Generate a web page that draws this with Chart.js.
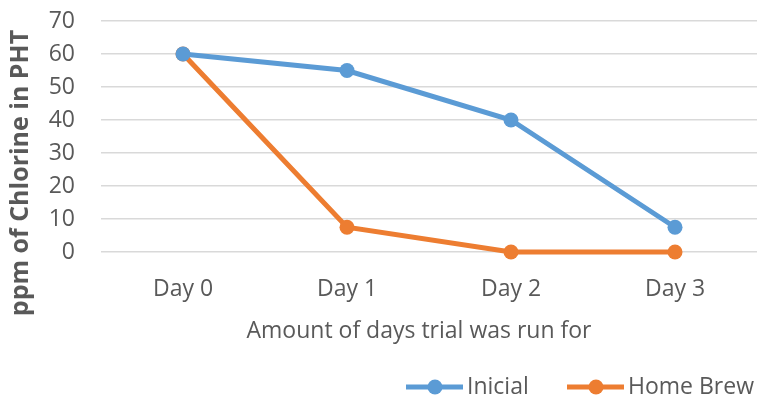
<!DOCTYPE html>
<html lang="en">
<head>
    <meta charset="UTF-8">
    <title>Chlorine</title>
    <style>
        html, body { margin: 0; padding: 0; background: #fff; }
        #wrap { width: 759px; height: 399px; }
    </style>
</head>
<body>
    <div id="wrap">
        <canvas id="chlorine-chart" width="759" height="399"></canvas>
    </div>
    <script src="https://cdn.jsdelivr.net/npm/chart.js"></script>
    <script>
        // data
        const days = ['Day 0', 'Day 1', 'Day 2', 'Day 3'];
        const inicial = [60, 55, 40, 7.5];
        const homeBrew = [60, 7.5, 0, 0];
        const yTicks = [0, 10, 20, 30, 40, 50, 60, 70];

        const blue = '#5B9BD5';
        const orange = '#ED7D31';
        const grey = '#595959';
        const font = '"Open Sans", sans-serif';

        // axis titles + legend drawn by hand (excel style)
        const extras = {
            id: 'extras',
            afterDraw(chart) {
                const ctx = chart.ctx;
                ctx.save();
                ctx.fillStyle = grey;
                ctx.textBaseline = 'middle';

                ctx.save();
                ctx.translate(21, 173);
                ctx.rotate(-Math.PI / 2);
                ctx.textAlign = 'center';
                ctx.font = 'bold 25px ' + font;
                ctx.fillText('ppm of Chlorine in PHT', 0, 0);
                ctx.restore();

                ctx.textAlign = 'center';
                ctx.font = '23px ' + font;
                ctx.fillText('Amount of days trial was run for', 419, 331);

                const items = [
                    { label: 'Inicial', color: blue, x: 406 },
                    { label: 'Home Brew', color: orange, x: 567 }
                ];
                items.forEach(it => {
                    ctx.strokeStyle = it.color;
                    ctx.lineWidth = 5;
                    ctx.beginPath();
                    ctx.moveTo(it.x, 387);
                    ctx.lineTo(it.x + 57, 387);
                    ctx.stroke();
                    ctx.fillStyle = it.color;
                    ctx.beginPath();
                    ctx.arc(it.x + 29, 387, 7.5, 0, Math.PI * 2);
                    ctx.fill();
                    ctx.fillStyle = grey;
                    ctx.textAlign = 'left';
                    ctx.font = '23px ' + font;
                    ctx.fillText(it.label, it.x + 61, 387);
                });
                ctx.restore();
            }
        };

        const ctx = document.getElementById('chlorine-chart').getContext('2d');
        new Chart(ctx, {
            type: 'line',
            data: {
                labels: days,
                datasets: [
                    {
                        label: 'Inicial',
                        data: inicial,
                        borderColor: blue,
                        backgroundColor: blue,
                        borderWidth: 5,
                        pointRadius: 7.5,
                        pointHoverRadius: 7.5,
                        pointBorderWidth: 0,
                        tension: 0
                    },
                    {
                        label: 'Home Brew',
                        data: homeBrew,
                        borderColor: orange,
                        backgroundColor: orange,
                        borderWidth: 5,
                        pointRadius: 7.5,
                        pointHoverRadius: 7.5,
                        pointBorderWidth: 0,
                        tension: 0
                    }
                ]
            },
            options: {
                responsive: false,
                animation: false,
                clip: false,
                layout: {
                    autoPadding: false,
                    padding: { top: 21, right: 2, bottom: 0, left: 0 }
                },
                plugins: {
                    legend: { display: false },
                    tooltip: { enabled: false }
                },
                scales: {
                    x: {
                        offset: true,
                        grid: { display: false, drawTicks: false },
                        border: { display: false },
                        ticks: {
                            color: grey,
                            font: { family: font, size: 23 },
                            padding: 24,
                            autoSkip: false,
                            maxRotation: 0
                        },
                        afterFit(scale) {
                            scale.height = 147;
                            scale.paddingLeft = 0;
                            scale.paddingRight = 0;
                        }
                    },
                    y: {
                        min: 0,
                        max: 70,
                        afterBuildTicks(scale) {
                            scale.ticks = yTicks.map(v => ({ value: v }));
                        },
                        grid: { color: '#D9D9D9', lineWidth: 1.5, drawTicks: false },
                        border: { display: false },
                        ticks: {
                            color: grey,
                            font: { family: font, size: 23 },
                            padding: 26,
                            autoSkip: false
                        },
                        afterFit(scale) {
                            scale.width = 101;
                            scale.paddingTop = 0;
                            scale.paddingBottom = 0;
                        }
                    }
                }
            },
            plugins: [extras]
        });
    </script>
</body>
</html>
